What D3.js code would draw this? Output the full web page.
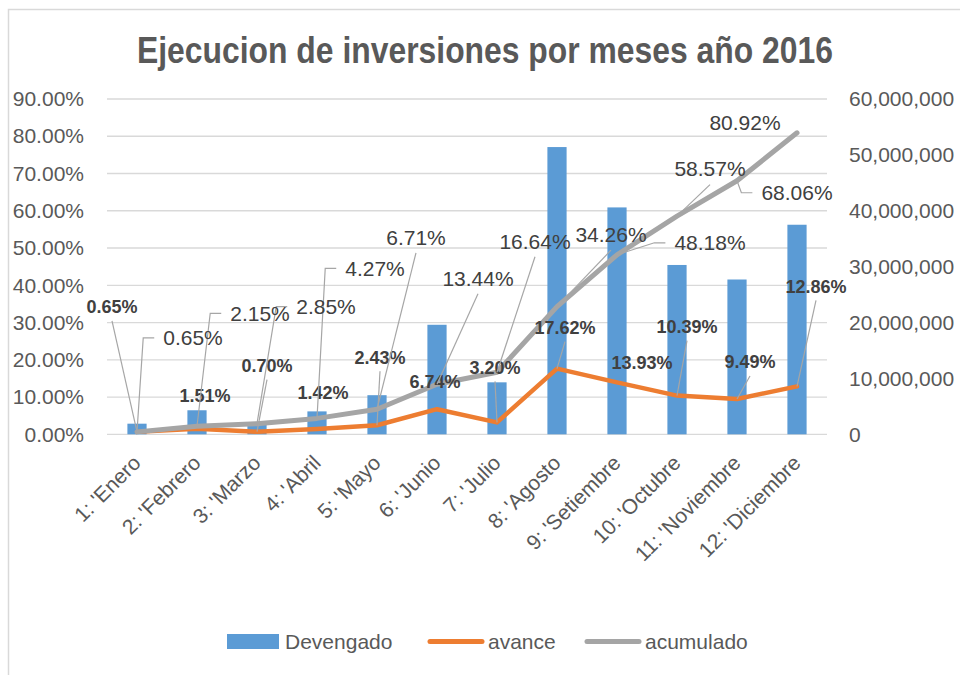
<!DOCTYPE html>
<html>
<head>
<meta charset="utf-8">
<script src="https://cdn.jsdelivr.net/npm/d3@7"></script>
<style>
  body { margin: 0; background: #fff; }
  svg { display: block; font-family: "Liberation Sans", Arial, sans-serif; }
</style>
</head>
<body>
<svg id="chart"></svg>
<script>
// data
let months = ["1: 'Enero", "2: 'Febrero", "3: 'Marzo", "4: 'Abril", "5: 'Mayo", "6: 'Junio",
              "7: 'Julio", "8: 'Agosto", "9: 'Setiembre", "10: 'Octubre", "11: 'Noviembre", "12: 'Diciembre"];
let devengado = [1.9e6, 4.3e6, 2.0e6, 4.1e6, 7.0e6, 19.6e6, 9.3e6, 51.4e6, 40.6e6, 30.3e6, 27.7e6, 37.5e6];
let avance = [0.0065, 0.0151, 0.0070, 0.0142, 0.0243, 0.0674, 0.0320, 0.1762, 0.1393, 0.1039, 0.0949, 0.1286];
let acumulado = [0.0065, 0.0215, 0.0285, 0.0427, 0.0671, 0.1344, 0.1664, 0.3426, 0.4818, 0.5857, 0.6806, 0.8092];
let leftTicks = [0, 0.1, 0.2, 0.3, 0.4, 0.5, 0.6, 0.7, 0.8, 0.9];
let rightTicks = [0, 10e6, 20e6, 30e6, 40e6, 50e6, 60e6];

// label placement (offset of label centre from its point) and leader style
let avanceOffset = [[-25, -125], [8, -33], [10, -66], [6, -36], [3, -68], [-2, -27],
                    [-2, -55], [8, -41], [25, -20], [10, -69], [13, -37], [19, -100]];
let avanceLeader = ["b", "", "b", "", "b", "", "b", "b", "", "b", "b", "b"];
let acumOffset = [[56, -94], [63, -113], [69, -117], [58, -150], [39, -172], [41, -106],
                  [38, -131], [54, -72], [93, -12], [33, -47], [60, 12], [-52, -10]];
let acumLeader = ["e", "e", "e", "e", "b", "b", "b", "b", "e", "b", "e", ""];

let width = 960;
let height = 675;
let plotLeft = 107, plotRight = 827, plotTop = 99, plotBottom = 434.3;

let svg = d3.select("#chart")
    .attr("width", width)
    .attr("height", height);

// chart frame (right and bottom edges fall outside the picture)
svg.append("rect")
    .attr("x", 8.5).attr("y", 9.5)
    .attr("width", 1000).attr("height", 1000)
    .attr("fill", "none")
    .attr("stroke", "#d9d9d9")
    .attr("stroke-width", 1.5);

let x = d3.scaleBand()
    .domain(months)
    .range([plotLeft, plotRight])
    .paddingInner(0.68)
    .paddingOuter(0.34);

let yL = d3.scaleLinear().domain([0, 0.9]).range([plotBottom, plotTop]);
let yR = d3.scaleLinear().domain([0, 60e6]).range([plotBottom, plotTop]);
let cx = (d, i) => x(months[i]) + x.bandwidth() / 2;

svg.append("text")
    .attr("x", 485)
    .attr("y", 63)
    .attr("text-anchor", "middle")
    .attr("font-size", 36)
    .attr("font-weight", "bold")
    .attr("fill", "#595959")
    .attr("textLength", 696)
    .attr("lengthAdjust", "spacingAndGlyphs")
    .text("Ejecucion de inversiones por meses año 2016");

// gridlines
svg.append("g")
    .selectAll("line")
    .data(leftTicks)
    .enter()
    .append("line")
    .attr("x1", plotLeft).attr("x2", plotRight)
    .attr("y1", d => yL(d)).attr("y2", d => yL(d))
    .attr("stroke", "#d9d9d9")
    .attr("stroke-width", 1.3);

let leftAxis = d3.axisLeft(yL)
    .tickValues(leftTicks)
    .tickFormat(d3.format(".2%"))
    .tickSize(0)
    .tickPadding(0);
let gL = svg.append("g")
    .attr("transform", "translate(84, 0)")
    .call(leftAxis);

let rightAxis = d3.axisRight(yR)
    .tickValues(rightTicks)
    .tickFormat(d3.format(","))
    .tickSize(0)
    .tickPadding(0);
let gR = svg.append("g")
    .attr("transform", "translate(849, 0)")
    .call(rightAxis);

[gL, gR].forEach(g => {
    g.select(".domain").remove();
    g.selectAll("text")
        .attr("font-size", 21)
        .attr("font-family", "Liberation Sans, Arial, sans-serif")
        .attr("fill", "#595959");
});

// month labels, rotated
let xAxis = d3.axisBottom(x).tickSize(0).tickPadding(0);
let gX = svg.append("g")
    .attr("transform", "translate(0, " + plotBottom + ")")
    .call(xAxis);
gX.select(".domain").remove();
gX.selectAll("text")
    .attr("font-size", 21)
    .attr("font-family", "Liberation Sans, Arial, sans-serif")
    .attr("fill", "#595959")
    .attr("text-anchor", "end")
    .attr("dy", 0)
    .attr("transform", "translate(5, 30) rotate(-45)");

// bars
svg.append("g")
    .selectAll("rect")
    .data(devengado)
    .enter()
    .append("rect")
    .attr("x", (d, i) => x(months[i]))
    .attr("y", d => yR(d))
    .attr("width", x.bandwidth())
    .attr("height", d => plotBottom - yR(d))
    .attr("fill", "#5b9bd5");

let line = d3.line()
    .x(cx)
    .y(d => yL(d));

svg.append("path")
    .datum(avance)
    .attr("d", line)
    .attr("fill", "none")
    .attr("stroke", "#ed7d31")
    .attr("stroke-width", 4.5)
    .attr("stroke-linejoin", "round")
    .attr("stroke-linecap", "round");

svg.append("path")
    .datum(acumulado)
    .attr("d", line)
    .attr("fill", "none")
    .attr("stroke", "#a5a5a5")
    .attr("stroke-width", 5)
    .attr("stroke-linejoin", "round")
    .attr("stroke-linecap", "round");

function drawLabels(values, offsets, leaders, bold, size) {
    let g = svg.append("g");
    values.forEach((v, i) => {
        let px = cx(v, i), py = yL(v);
        let lx = px + offsets[i][0], ly = py + offsets[i][1];
        let t = g.append("text")
            .attr("x", lx)
            .attr("y", ly)
            .attr("dy", "0.35em")
            .attr("text-anchor", "middle")
            .attr("font-size", size)
            .attr("font-weight", bold ? "bold" : "normal")
            .attr("fill", "#404040")
            .text(d3.format(".2%")(v));
        let w = t.node().getComputedTextLength();
        let pts = null;
        if (leaders[i] == "b") {
            pts = [[lx, ly + size * 0.5 + 5], [px, py]];
        } else if (leaders[i] == "e") {
            let l = lx - w / 2;
            pts = [[l - 9, ly], [l - 20, ly], [px, py]];
        }
        if (pts) {
            g.insert("path", "text")
                .attr("d", d3.line()(pts))
                .attr("fill", "none")
                .attr("stroke", "#a6a6a6")
                .attr("stroke-width", 1.2);
        }
    });
}

drawLabels(avance, avanceOffset, avanceLeader, true, 18);
drawLabels(acumulado, acumOffset, acumLeader, false, 21);

// legend
let legend = svg.append("g").attr("font-size", 21).attr("fill", "#595959");
legend.append("rect")
    .attr("x", 227).attr("y", 634)
    .attr("width", 52).attr("height", 15)
    .attr("fill", "#5b9bd5");
legend.append("text").attr("x", 285).attr("y", 641.5).attr("dy", "0.35em").text("Devengado");
legend.append("line")
    .attr("x1", 430).attr("x2", 482).attr("y1", 641.5).attr("y2", 641.5)
    .attr("stroke", "#ed7d31").attr("stroke-width", 5).attr("stroke-linecap", "round");
legend.append("text").attr("x", 488).attr("y", 641.5).attr("dy", "0.35em").text("avance");
legend.append("line")
    .attr("x1", 587).attr("x2", 639).attr("y1", 641.5).attr("y2", 641.5)
    .attr("stroke", "#a5a5a5").attr("stroke-width", 5).attr("stroke-linecap", "round");
legend.append("text").attr("x", 645).attr("y", 641.5).attr("dy", "0.35em").text("acumulado");
</script>
</body>
</html>
